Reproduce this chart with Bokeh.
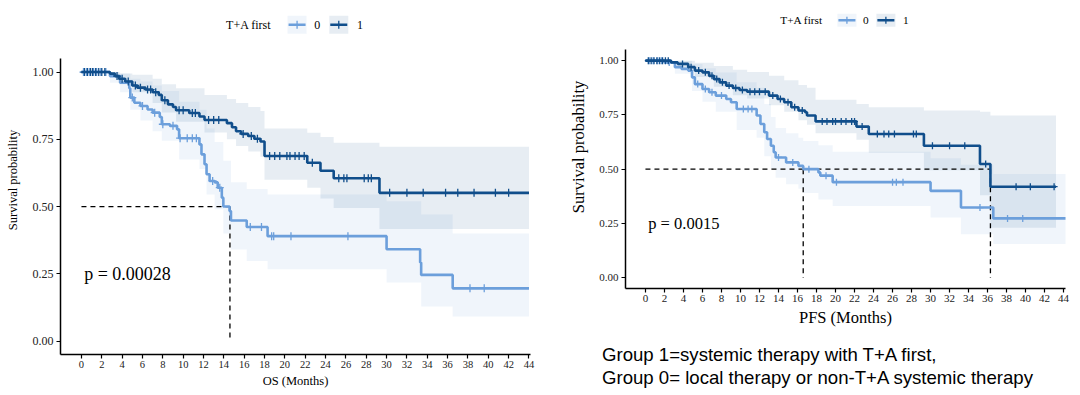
import numpy as np
from bokeh.plotting import figure
from bokeh.models import FixedTicker, NumeralTickFormatter, Div
from bokeh.layouts import row, column
from bokeh.embed import file_html
from bokeh.resources import INLINE
from bokeh.core.properties import value

SERIF = "Liberation Serif"
C0 = "#6C9FDB"
C1 = "#104E8B"

# ---------------- OS (left) ----------------
os1_t = [0, 2.8, 3.3, 3.7, 4.3, 5.0, 5.5, 6.3, 7.0, 7.6, 7.9, 8.5, 9.0, 9.3, 10.6, 11.6, 12.1, 14.3, 14.8,
         15.2, 15.7, 16.4, 17.0, 17.6, 18.0, 22.2, 23.5, 24.8, 29.3, 44]
os1_s = [1.0, 0.994, 0.985, 0.975, 0.965, 0.950, 0.942, 0.935, 0.925, 0.915, 0.895, 0.880, 0.870, 0.858, 0.848,
         0.835, 0.822, 0.810, 0.795, 0.780, 0.770, 0.762, 0.752, 0.742, 0.688, 0.663, 0.633, 0.605, 0.551, 0.551]
os1_cens = [0.3, 0.6, 0.9, 1.1, 1.4, 1.7, 2.0, 2.3, 3.5, 4.0, 4.6, 5.3, 5.8, 6.5, 6.8, 7.3, 8.2, 9.6, 10.0, 10.9,
            11.2, 12.5, 13.0, 13.5, 15.9, 16.7, 17.3, 18.5, 19.0, 19.5, 20.2, 20.5, 21.0, 21.4, 21.9, 22.7, 25.3,
            25.8, 26.1, 27.8, 28.2, 28.5, 30.3, 32.0, 33.6, 35.8, 37.0, 38.6, 40.7, 42.0]
os1_ci_t = [0, 2.8, 3.7, 5.0, 7.0, 7.9, 9.3, 12.1, 14.3, 15.2, 16.4, 17.6, 18.0, 22.2, 23.5, 24.8, 29.3, 44]
os1_ci_hi = [1.0, 1.0, 0.995, 0.99, 0.975, 0.955, 0.94, 0.915, 0.90, 0.885, 0.87, 0.855, 0.79, 0.774, 0.759,
             0.737, 0.722, 0.722]
os1_ci_lo = [1.0, 0.985, 0.955, 0.925, 0.885, 0.85, 0.815, 0.775, 0.75, 0.725, 0.705, 0.685, 0.60, 0.57, 0.53,
             0.495, 0.417, 0.417]

os0_t = [0, 2.8, 3.8, 4.7, 4.8, 5.2, 5.8, 6.5, 7.0, 7.7, 7.9, 8.7, 9.4, 9.6, 11.6, 11.8, 12.1, 12.3, 12.6, 13.1,
         13.4, 13.8, 13.95, 14.56, 14.7, 16.25, 18.3, 30.0, 33.3, 33.4, 36.5, 44]
os0_s = [1.0, 0.985, 0.96, 0.94, 0.905, 0.886, 0.874, 0.861, 0.849, 0.833, 0.806, 0.80, 0.787, 0.754, 0.731,
         0.694, 0.657, 0.62, 0.595, 0.59, 0.57, 0.533, 0.50, 0.483, 0.448, 0.424, 0.39, 0.341, 0.292, 0.246,
         0.196, 0.196]
os0_cens = [0.2, 0.5, 0.8, 1.2, 1.5, 1.9, 2.4, 5.0, 6.0, 7.2, 8.0, 9.0, 9.7, 10.4, 10.9, 11.3, 12.9, 13.6, 16.6,
            17.7, 18.7, 18.9, 20.6, 26.2, 38.2, 39.6]
os0_ci_t = [0, 2.8, 3.8, 4.8, 5.8, 7.0, 7.9, 9.6, 11.6, 12.3, 13.1, 13.95, 14.7, 16.25, 18.3, 30.0, 33.4, 36.5, 44]
os0_ci_hi = [1.0, 1.0, 0.995, 0.975, 0.965, 0.95, 0.93, 0.89, 0.86, 0.79, 0.74, 0.67, 0.59, 0.565, 0.545, 0.52,
             0.47, 0.40, 0.40]
os0_ci_lo = [1.0, 0.96, 0.925, 0.86, 0.82, 0.78, 0.745, 0.675, 0.64, 0.545, 0.49, 0.40, 0.34, 0.298, 0.267,
             0.218, 0.128, 0.091, 0.091]
os_medians = [14.6]
os_p = "p = 0.00028"

# ---------------- PFS (right) ----------------
pfs1_t = [0, 2.7, 3.4, 4.5, 5.2, 6.0, 6.7, 7.2, 7.8, 8.5, 9.2, 9.9, 10.7, 13.0, 13.9, 14.6, 15.35, 16.1, 16.8,
          17.0, 17.9, 22.2, 23.5, 29.3, 35.2, 36.3, 43.2]
pfs1_s = [1.0, 0.992, 0.985, 0.97, 0.954, 0.946, 0.93, 0.915, 0.90, 0.885, 0.874, 0.865, 0.857, 0.839, 0.823,
          0.808, 0.785, 0.77, 0.762, 0.747, 0.72, 0.696, 0.662, 0.608, 0.524, 0.419, 0.419]
pfs1_cens = [0.3, 0.6, 0.9, 1.2, 1.5, 1.8, 2.1, 2.4, 3.9, 4.8, 5.6, 6.3, 7.0, 7.5, 8.1, 8.8, 9.5, 10.2, 11.0,
             11.5, 12.0, 12.6, 13.4, 14.2, 15.0, 15.7, 16.5, 18.6, 19.1, 19.7, 20.0, 20.6, 21.1, 21.7, 22.0,
             22.8, 24.4, 25.1, 25.6, 26.2, 28.2, 28.5, 30.2, 32.0, 33.6, 35.8, 39.0, 40.5, 43.0]
pfs1_ci_t = [0, 3.4, 5.2, 7.2, 9.2, 10.7, 13.0, 14.6, 16.1, 17.0, 17.9, 22.2, 23.5, 29.3, 35.2, 36.3, 43.2]
pfs1_ci_hi = [1.0, 1.0, 0.99, 0.975, 0.958, 0.948, 0.93, 0.91, 0.888, 0.875, 0.82, 0.80, 0.785, 0.77, 0.765,
              0.747, 0.747]
pfs1_ci_lo = [1.0, 0.965, 0.925, 0.88, 0.84, 0.825, 0.795, 0.765, 0.725, 0.705, 0.665, 0.635, 0.575, 0.495,
              0.38, 0.23, 0.23]

pfs0_t = [0, 2.0, 3.1, 3.8, 4.5, 4.9, 5.2, 6.0, 6.7, 7.4, 8.5, 9.0, 9.6, 11.7, 12.1, 12.5, 12.8, 13.2, 13.5,
          13.7, 14.8, 16.1, 16.6, 18.2, 18.4, 19.7, 30.0, 33.2, 36.6, 44.3]
pfs0_s = [1.0, 0.992, 0.97, 0.962, 0.954, 0.923, 0.892, 0.869, 0.854, 0.839, 0.823, 0.808, 0.777, 0.747, 0.708,
          0.67, 0.639, 0.608, 0.578, 0.554, 0.531, 0.515, 0.50, 0.485, 0.47, 0.44, 0.40, 0.323, 0.273, 0.273]
pfs0_cens = [0.4, 0.8, 1.3, 1.7, 2.5, 5.5, 6.3, 7.0, 8.0, 10.3, 10.8, 11.2, 14.0, 15.5, 17.2, 19.0, 20.1, 26.0,
             26.4, 27.1, 35.2, 38.1, 39.7]
pfs0_ci_t = [0, 3.1, 4.9, 6.0, 7.4, 9.6, 11.7, 12.5, 13.2, 13.7, 14.8, 16.1, 16.6, 18.2, 19.7, 30.0, 33.2, 36.6,
             44.3]
pfs0_ci_hi = [1.0, 1.0, 0.985, 0.965, 0.945, 0.90, 0.875, 0.80, 0.74, 0.69, 0.665, 0.645, 0.63, 0.61, 0.58,
              0.55, 0.52, 0.478, 0.478]
pfs0_ci_lo = [1.0, 0.94, 0.86, 0.81, 0.765, 0.68, 0.645, 0.56, 0.50, 0.46, 0.43, 0.41, 0.39, 0.36, 0.33, 0.277,
              0.20, 0.155, 0.155]
pfs_medians = [16.6, 36.3]
pfs_p = "p = 0.0015"

x_ticks = list(range(0, 45, 2))
y_ticks = [0, 0.25, 0.5, 0.75, 1.0]
legend_title = "T+A first"
group_labels = ["0", "1"]
note_lines = ["Group 1=systemic therapy with T+A first,",
              "Group 0= local therapy or non-T+A systemic therapy"]

# legend placement (x in months, shared by both panels)
leg_title_right = 18.65
leg_key_x = [21.2, 25.3]
leg_label_x = [22.9, 27.1]


def step_at(t, s, c):
    t = np.asarray(t); s = np.asarray(s)
    idx = np.searchsorted(t, np.asarray(c), side="right") - 1
    return s[idx]


def km_panel(p, groups, medians, ptext, ppos, pfont, lg):
    for (t, s, cens, ct, hi, lo, col) in groups:
        p.varea_step(x=ct, y1=lo, y2=hi, step_mode="after", fill_color=col, fill_alpha=0.1)
    mx = max(medians)
    p.segment(x0=[0], y0=[0.5], x1=[mx], y1=[0.5], line_color="black", line_dash="5 4", line_width=1.3)
    p.segment(x0=medians, y0=[0.5] * len(medians), x1=medians, y1=[0] * len(medians),
              line_color="black", line_dash="5 4", line_width=1.3)
    for (t, s, cens, ct, hi, lo, col) in groups:
        p.step(x=t, y=s, mode="after", line_color=col, line_width=2.6)
        p.scatter(x=cens, y=step_at(t, s, cens), marker="cross", size=lg["cross"], line_color=col,
                  line_width=1.3)
    p.text(x=[ppos[0]], y=[ppos[1]], text=[ptext], text_font=value(SERIF), text_font_size=pfont,
           text_baseline="middle", text_align="left", text_color="black")
    # legend (drawn above the panel area)
    ly = lg["y"]
    cols = [g[6] for g in groups]
    p.text(x=[leg_title_right], y=[ly], text=[legend_title], text_font=value(SERIF), text_font_size=lg["fs"],
           text_baseline="middle", text_align="right", text_color="black")
    p.rect(x=leg_key_x, y=[ly, ly], width=lg["gw"], height=lg["gh"], width_units="screen",
           height_units="screen", fill_color=cols, fill_alpha=0.1, line_color=None)
    p.scatter(x=leg_key_x, y=[ly, ly], marker="dash", size=lg["gw"] - 2, line_color=cols, line_width=2.6)
    p.scatter(x=leg_key_x, y=[ly, ly], marker="cross", size=lg["cross"], line_color=cols, line_width=1.3)
    p.text(x=leg_label_x, y=[ly, ly], text=group_labels, text_font=value(SERIF), text_font_size=lg["fs"],
           text_baseline="middle", text_align="left", text_color="black")


def style(p, xlab, ylab, xfs, yfs, labfs):
    p.xgrid.visible = False
    p.ygrid.visible = False
    p.outline_line_color = None
    p.xaxis.ticker = FixedTicker(ticks=x_ticks)
    p.yaxis.ticker = FixedTicker(ticks=y_ticks)
    p.yaxis.formatter = NumeralTickFormatter(format="0.00")
    p.yaxis.bounds = (-0.05, 1.05)
    p.xaxis.axis_label = xlab
    p.yaxis.axis_label = ylab
    for ax in (p.xaxis, p.yaxis):
        ax.axis_line_color = "black"
        ax.axis_line_width = 1.5
        ax.major_tick_line_color = "black"
        ax.major_tick_line_width = 1.2
        ax.major_tick_out = 4
        ax.major_tick_in = 0
        ax.minor_tick_line_color = None
        ax.major_label_text_font = SERIF
        ax.major_label_text_color = "#222222"
        ax.axis_label_text_font = SERIF
        ax.axis_label_text_font_style = "normal"
        ax.axis_label_text_font_size = labfs
        ax.axis_label_text_color = "black"
    p.xaxis.major_label_text_font_size = xfs
    p.yaxis.major_label_text_font_size = yfs
    p.xaxis.major_label_standoff = 2
    p.yaxis.major_label_standoff = 3


# Left figure (page x 0-540, y 0-395); frame 60..530 x 5..354
pl = figure(width=540, height=395, x_range=(-2.06, 44.15), y_range=(-0.05, 1.2474),
            min_border_left=60, min_border_right=10, min_border_top=5, min_border_bottom=41,
            output_backend="svg", toolbar_location=None)
style(pl, "OS (Months)", "Survival probability", "10.5px", "12px", "12.5px")
pl.xaxis.axis_label_standoff = 3
pl.yaxis.axis_label_standoff = 10
km_panel(pl,
         [(os0_t, os0_s, os0_cens, os0_ci_t, os0_ci_hi, os0_ci_lo, C0),
          (os1_t, os1_s, os1_cens, os1_ci_t, os1_ci_hi, os1_ci_lo, C1)],
         os_medians, os_p, (0.27, 0.25), "18px",
         dict(y=1.176, fs="12px", gw=19, gh=18, cross=8))

# Right figure (page x 540-1080, y 0-343); frame 625..1065 x 5..288
pr = figure(width=540, height=343, x_range=(-2.1, 44.2), y_range=(-0.05, 1.2541),
            min_border_left=85, min_border_right=15, min_border_top=5, min_border_bottom=55,
            output_backend="svg", toolbar_location=None)
style(pr, "PFS (Months)", "Survival probability", "11px", "11px", "16.5px")
pr.xaxis.axis_label_standoff = 3
pr.yaxis.axis_label_standoff = 8
km_panel(pr,
         [(pfs0_t, pfs0_s, pfs0_cens, pfs0_ci_t, pfs0_ci_hi, pfs0_ci_lo, C0),
          (pfs1_t, pfs1_s, pfs1_cens, pfs1_ci_t, pfs1_ci_hi, pfs1_ci_lo, C1)],
         pfs_medians, pfs_p, (0.29, 0.25), "16.5px",
         dict(y=1.186, fs="11.3px", gw=19, gh=13, cross=7))

note = Div(text="<br>".join(note_lines), width=478, height=46, margin=(0, 0, 0, 62),
           styles={"font-family": "Liberation Sans", "font-size": "18.6px", "line-height": "23px",
                   "color": "black", "white-space": "nowrap"})

layout = row(pl, column(pr, note))
open("out.html", "w").write(file_html(layout, INLINE))
